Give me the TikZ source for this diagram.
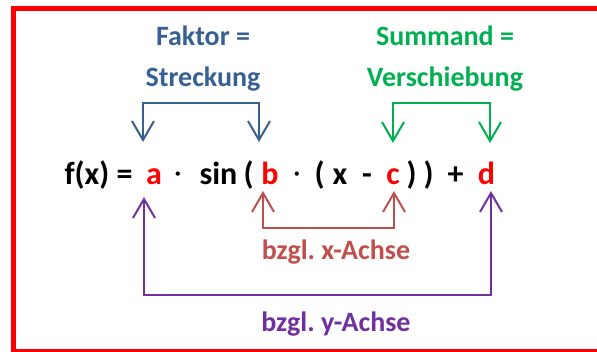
\documentclass[tikz,border=0pt]{standalone}
\usepackage{fontspec}
\setmainfont{Carlito}
\usetikzlibrary{arrows.meta}
\definecolor{framered}{RGB}{255,0,0}
\definecolor{faktorblue}{RGB}{55,96,146}
\definecolor{summandgreen}{RGB}{0,176,80}
\definecolor{xaxisred}{RGB}{192,80,77}
\definecolor{yaxispurple}{RGB}{112,48,160}
\definecolor{paramred}{RGB}{255,0,0}

\begin{document}
\frenchspacing
\begin{tikzpicture}[x=1pt,y=-1pt,
  caption/.style={font=\fontsize{28}{30}\selectfont\bfseries, inner sep=0pt, anchor=base},
  term/.style={font=\fontsize{32}{34}\selectfont\bfseries, inner sep=0pt, anchor=base},
  timesdot/.style={font=\fontsize{30}{32}\selectfont\mdseries, inner sep=0pt, anchor=base},
  param/.style={term, text=paramred},
  link/.style={line width=2pt, {Straight Barb[length=19pt,width=22pt]}-{Straight Barb[length=19pt,width=22pt]}},
]
\useasboundingbox (0,0) rectangle (597,352);
\clip (0,0) rectangle (597,352);

% frame
\draw[framered, line width=5pt] (13,9) rectangle (620,351.5);

% captions
\node[caption, text=faktorblue]   (faktor) at (203,46)  {Faktor =};
\node[caption, text=faktorblue]   (streck) at (203,87)  {Streckung};
\node[caption, text=summandgreen] (summ)   at (445,46)  {Summand =};
\node[caption, text=summandgreen] (versch) at (445,87)  {Verschiebung};
\node[caption, text=xaxisred]     (xlab)   at (336,260) {bzgl. x-Achse};
\node[caption, text=yaxispurple]  (ylab)   at (336,332) {bzgl. y-Achse};

% formula
\node[term]     (fx)   at (98.5,185)  {f(x) =};
\node[param]    (a)    at (154,185)   {a};
\node[timesdot] (dot1) at (178,183)   {·};
\node[term]     (sin)  at (218.5,185) {sin};
\node[term]     (lp1)  at (248.5,185) {(};
\node[param]    (b)    at (270,185)   {b};
\node[timesdot] (dot2) at (297,183)   {·};
\node[term]     (lp2)  at (319.5,185) {(};
\node[term]     (x)    at (340,185)   {x};
\node[term]     (minus) at (367,185)  {-};
\node[param]    (c)    at (393,185)   {c};
\node[term]     (rp1)  at (411.5,185) {)};
\node[term]     (rp2)  at (428.5,185) {)};
\node[term]     (plus) at (455.5,185) {+};
\node[param]    (d)    at (486.5,185) {d};

% arrow end points at the parameters
\coordinate (aTop) at ([xshift=-11pt]a.center |- 0,142);
\coordinate (bTop) at ([xshift=-11pt]b.center |- 0,142);
\coordinate (cTop) at (c.center |- 0,143);
\coordinate (dTop) at ([xshift=3.5pt]d.center |- 0,143);
\coordinate (bBot) at ([xshift=-7pt]b.center |- 0,191);
\coordinate (cBot) at ([xshift=1pt]c.center |- 0,191);
\coordinate (aBot) at ([xshift=-10pt]a.center |- 0,197);
\coordinate (dBot) at ([xshift=4.5pt]d.center |- 0,191);

% brackets
\draw[link, faktorblue]   (aTop) -- ++(0,-39) -| (bTop);
\draw[link, summandgreen] (cTop) -- ++(0,-40) -| (dTop);
\draw[link, xaxisred]     (bBot) -- ++(0,37)  -| (cBot);
\draw[link, yaxispurple]  (aBot) -- ++(0,98)  -| (dBot);
\end{tikzpicture}
\end{document}
